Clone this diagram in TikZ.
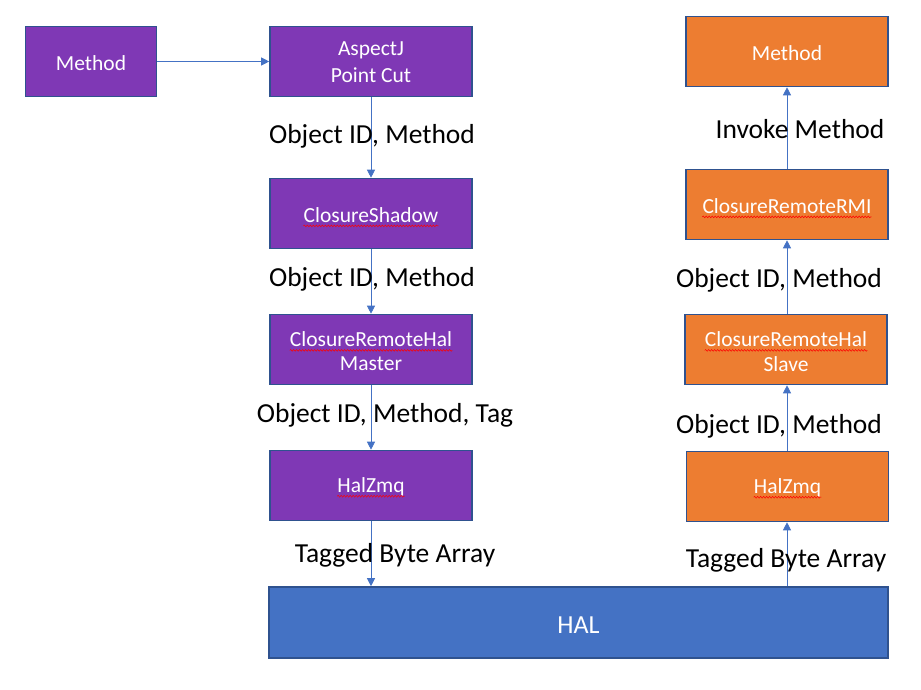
\documentclass[tikz,border=0pt]{standalone}
\usepackage{fontspec}
\setmainfont{Carlito}
\usetikzlibrary{arrows.meta,decorations.pathmorphing}
\definecolor{pur}{HTML}{7F38B5}
\definecolor{org}{HTML}{ED7D31}
\definecolor{halblue}{HTML}{4472C4}
\definecolor{bord}{HTML}{2F528F}
\definecolor{arr}{HTML}{4472C4}
\tikzset{
  box/.style={draw=bord, line width=1.6pt, minimum width=202pt, minimum height=70pt, inner sep=0pt},
  pbox/.style={box, fill=pur},
  obox/.style={box, fill=org},
  btxt/.style={text=white, inner sep=0pt, font=\fontsize{21.5}{25}\selectfont},
  lbl/.style={text=black, inner sep=0pt, font=\fontsize{27.5}{31}\selectfont},
  conn/.style={draw=arr, line width=0.8pt, -{Triangle[length=8pt,width=8pt]}},
  squig/.style={draw=red, line width=0.5pt, decorate, decoration={snake, amplitude=0.9pt, segment length=3pt}}
}
\begin{document}
\begin{tikzpicture}[x=1pt,y=-1pt]
\useasboundingbox (0,0) rectangle (921,690);
% left column
\node[pbox, minimum width=131pt] (ml) at (91,61.5) {};
\node[btxt] (mlt) at ([yshift=-1.5pt]ml.center) {Method};
\node[pbox] (aj) at (371,61.5) {};
\node[btxt] (aj1) at (371,50.5) {AspectJ};
\node[btxt] (aj2) at (371,75) {Point Cut};
\node[pbox] (cs) at (371,213.5) {};
\node[btxt] (cst) at ([yshift=-1.5pt]cs.center) {ClosureShadow};
\node[pbox] (crm) at (371,349.5) {};
\node[btxt] (crm1) at (371,339.5) {ClosureRemoteHal};
\node[btxt] (crm2) at (371,364) {Master};
\node[pbox] (hzl) at (371,485.5) {};
\node[btxt] (hzlt) at ([yshift=-1.5pt]hzl.center) {HalZmq};
% HAL
\node[box, fill=halblue, minimum width=619pt, minimum height=71pt] (hal) at (578.5,622.5) {};
\node[btxt, font=\fontsize{26}{30}\selectfont] (halt) at ([yshift=-2.5pt]hal.center) {HAL};
% right column
\node[obox] (mr) at (787,51.5) {};
\node[btxt] (mrt) at ([yshift=-1.5pt]mr.center) {Method};
\node[obox] (rmi) at (787,204.5) {};
\node[btxt] (rmit) at ([yshift=-1.5pt]rmi.center) {ClosureRemoteRMI};
\node[obox] (crs) at (786,349.5) {};
\node[btxt] (crs1) at (786,339.5) {ClosureRemoteHal};
\node[btxt] (crs2) at (786,364) {Slave};
\node[obox] (hzr) at (787.5,486.5) {};
\node[btxt] (hzrt) at ([yshift=-1.5pt]hzr.center) {HalZmq};
% squiggles
\foreach \t in {cst,crm1,hzlt,rmit,crs1,hzrt}{
  \draw[squig] ([yshift=-3.5pt]\t.base west) -- ([yshift=-3.5pt]\t.base east);
}
% connectors
\draw[conn] (ml.east) -- (aj.west);
\draw[conn] (aj.south) -- (cs.north);
\draw[conn] (cs.south) -- (crm.north);
\draw[conn] (crm.south) -- (hzl.north);
\draw[conn] (hzl.south) -- (hal.north -| hzl.south);
\coordinate (hr) at (787,587);
\draw[conn] (hal.north -| hr) -- (hzr.south -| hr);
\draw[conn] (hzr.north -| hr) -- (crs.south -| hr);
\draw[conn] (crs.north -| hr) -- (rmi.south -| hr);
\draw[conn] (rmi.north -| hr) -- (mr.south -| hr);
% labels
\node[lbl] (l1) at (372,136) {Object ID, Method};
\node[lbl] (l2) at (372,279) {Object ID, Method};
\node[lbl] (l3) at (385,415) {Object ID, Method, Tag};
\node[lbl] (l4) at (395,555) {Tagged Byte Array};
\node[lbl] (r1) at (800,129) {Invoke Method};
\node[lbl] (r2) at (779,280) {Object ID, Method};
\node[lbl] (r3) at (779,426) {Object ID, Method};
\node[lbl] (r4) at (786,560) {Tagged Byte Array};
\end{tikzpicture}
\end{document}
